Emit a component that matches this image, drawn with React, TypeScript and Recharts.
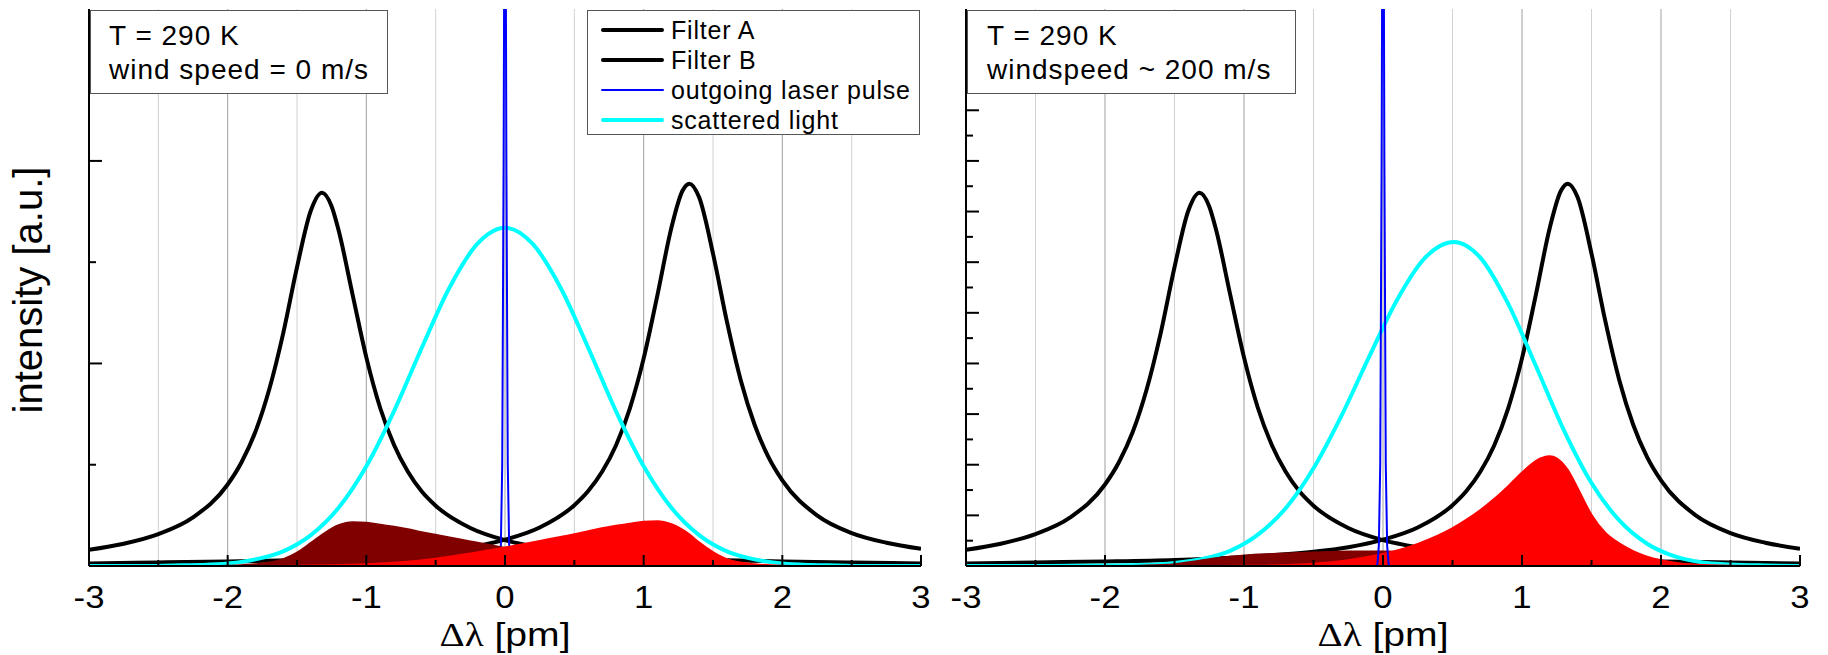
import { ComposedChart, Line, Area, XAxis, YAxis, CartesianGrid, Legend } from "recharts";

const FONT = "'Liberation Sans', Arial, Helvetica, sans-serif";

// wavelength offset [pm] / intensity [a.u.]
const filterAX = [-3, -2.75, -2.5, -2.25, -2, -1.9, -1.8, -1.7, -1.6, -1.5, -1.4, -1.32, -1.25, -1.2, -1.1, -1, -0.9, -0.8, -0.7, -0.6, -0.5, -0.25, 0, 0.25, 0.5, 0.75, 1, 1.5, 2, 2.5, 3];
const filterAY = [0.32, 0.44, 0.63, 0.96, 1.61, 2.05, 2.65, 3.49, 4.59, 5.9, 7.02, 7.37, 7.1, 6.63, 5.37, 4.12, 3.12, 2.39, 1.86, 1.47, 1.19, 0.75, 0.51, 0.37, 0.28, 0.22, 0.17, 0.12, 0.09, 0.07, 0.05];

const filterBX = [-3, -2.5, -2, -1.5, -1, -0.75, -0.5, -0.25, 0, 0.25, 0.5, 0.6, 0.7, 0.8, 0.9, 1, 1.1, 1.2, 1.28, 1.33, 1.4, 1.5, 1.6, 1.7, 1.8, 1.9, 2, 2.25, 2.5, 2.75, 3];
const filterBY = [0.05, 0.07, 0.09, 0.12, 0.18, 0.22, 0.28, 0.37, 0.52, 0.76, 1.2, 1.48, 1.86, 2.38, 3.11, 4.1, 5.36, 6.68, 7.41, 7.55, 7.28, 6.17, 4.83, 3.67, 2.79, 2.15, 1.69, 1.0, 0.65, 0.46, 0.34];

const laserX = [-3, -0.045, -0.04, -0.03, -0.02, -0.01, 0, 0.01, 0.02, 0.03, 0.04, 0.045, 3];
const laserY = [0, 0, 0.05, 0.4, 2, 8, 17, 8, 2, 0.4, 0.05, 0, 0];

// wind speed = 0 m/s
const calmScatterX = [-3, -2.8, -2.6, -2.4, -2.2, -2, -1.8, -1.6, -1.4, -1.2, -1, -0.8, -0.6, -0.4, -0.2, 0, 0.2, 0.4, 0.6, 0.8, 1, 1.2, 1.4, 1.6, 1.8, 2, 2.2, 2.4, 2.6, 2.8, 3];
const calmScatterY = [0, 0, 0, 0.01, 0.02, 0.05, 0.13, 0.29, 0.61, 1.15, 1.97, 3.06, 4.31, 5.5, 6.36, 6.68, 6.36, 5.5, 4.31, 3.06, 1.97, 1.15, 0.61, 0.29, 0.13, 0.05, 0.02, 0.01, 0, 0, 0];

const calmThruAX = [-3, -2.25, -2, -1.8, -1.6, -1.5, -1.4, -1.32, -1.2, -1.1, -1, -0.9, -0.8, -0.7, -0.6, -0.5, -0.4, -0.25, 0, 0.25, 0.5, 0.75, 1, 1.25, 1.5, 2, 3];
const calmThruAY = [0, 0, 0.01, 0.04, 0.14, 0.27, 0.46, 0.62, 0.81, 0.87, 0.86, 0.82, 0.78, 0.73, 0.67, 0.62, 0.57, 0.49, 0.36, 0.24, 0.15, 0.08, 0.04, 0.02, 0.01, 0, 0];

const calmThruBX = [-3, -2, -1.5, -1.25, -1, -0.75, -0.5, -0.25, 0, 0.25, 0.4, 0.5, 0.6, 0.7, 0.8, 0.9, 1, 1.1, 1.2, 1.33, 1.4, 1.5, 1.6, 1.8, 2, 2.25, 3];
const calmThruBY = [0, 0, 0.01, 0.02, 0.04, 0.08, 0.15, 0.25, 0.37, 0.5, 0.58, 0.63, 0.69, 0.75, 0.8, 0.84, 0.88, 0.89, 0.83, 0.63, 0.47, 0.28, 0.14, 0.04, 0.01, 0, 0];

// windspeed ~ 200 m/s
const windScatterX = [-3, -2.5, -2, -1.75, -1.5, -1.3, -1.1, -0.9, -0.7, -0.5, -0.3, -0.1, 0.1, 0.3, 0.51, 0.7, 0.9, 1.1, 1.3, 1.5, 1.7, 1.9, 2.1, 2.3, 2.5, 2.75, 3];
const windScatterY = [0, 0, 0.01, 0.02, 0.06, 0.14, 0.3, 0.62, 1.14, 1.93, 2.96, 4.13, 5.25, 6.08, 6.4, 6.09, 5.18, 3.95, 2.69, 1.64, 0.9, 0.44, 0.19, 0.07, 0.03, 0.01, 0];

const windThruAX = [-3, -2, -1.75, -1.5, -1.32, -1.2, -1.1, -1, -0.9, -0.8, -0.7, -0.5, -0.25, 0, 0.25, 0.5, 0.75, 1, 1.25, 1.5, 2, 3];
const windThruAY = [0, 0, 0.01, 0.04, 0.11, 0.16, 0.19, 0.21, 0.23, 0.24, 0.25, 0.27, 0.29, 0.29, 0.27, 0.22, 0.16, 0.1, 0.05, 0.02, 0, 0];

const windThruBX = [-3, -1.5, -1, -0.75, -0.5, -0.25, 0, 0.25, 0.5, 0.6, 0.7, 0.8, 0.9, 1, 1.1, 1.2, 1.25, 1.33, 1.4, 1.5, 1.6, 1.7, 1.8, 1.9, 2, 2.1, 2.25, 2.5, 3];
const windThruBY = [0, 0, 0.01, 0.02, 0.05, 0.12, 0.24, 0.44, 0.75, 0.92, 1.11, 1.33, 1.58, 1.85, 2.08, 2.17, 2.13, 1.9, 1.55, 1.02, 0.66, 0.45, 0.3, 0.19, 0.12, 0.07, 0.03, 0.01, 0];

const xTicks = [-3, -2.5, -2, -1.5, -1, -0.5, 0, 0.5, 1, 1.5, 2, 2.5, 3];
const gridMinor = [-2.5, -1.5, -0.5, 0.5, 1.5, 2.5];
const gridMajor = [-2, -1, 0, 1, 2];
const calmYTicks = [0, 2, 4, 6, 8, 10];
const windYTicks = [0, 0.5, 1, 1.5, 2, 2.5, 3, 3.5, 4, 4.5, 5, 5.5, 6, 6.5, 7, 7.5, 8, 8.5, 9, 9.5, 10, 10.5];

const legendItems = [
  { name: "Filter A", color: "#000000", w: 4 },
  { name: "Filter B", color: "#000000", w: 4 },
  { name: "outgoing laser pulse", color: "#0000ff", w: 1.5 },
  { name: "scattered light", color: "#00ffff", w: 4.5 },
];

type Pt = { x: number; y: number };
const pts = (xs: number[], ys: number[]): Pt[] => xs.map((x, i) => ({ x, y: ys[i] }));

const filterA = pts(filterAX, filterAY);
const filterB = pts(filterBX, filterBY);
const laser = pts(laserX, laserY);

const axisStyle = { stroke: "#000", strokeWidth: 2 };

function BottomTick(p: any) {
  const v = p.payload.value;
  const major = Math.abs(v - Math.round(v)) < 1e-6;
  return (
    <g>
      <line x1={p.x} y1={p.y} x2={p.x} y2={p.y - (major ? 11 : 6)} stroke="#000" strokeWidth={2} />
      {major && (
        <text
          transform={`translate(${p.x},${p.y + 42}) scale(1.12,1)`}
          textAnchor="middle"
          fontSize={31}
          fontFamily={FONT}
          fill="#000"
        >
          {String(v)}
        </text>
      )}
    </g>
  );
}

function TopTick(p: any) {
  return <line x1={p.x} y1={p.y} x2={p.x} y2={p.y + 5} stroke="#000" strokeWidth={2} />;
}

function SideTick(p: any) {
  const v = p.payload.value;
  const major = Math.abs(v / p.step - Math.round(v / p.step)) < 1e-6;
  const len = major ? 13 : 7;
  return <line x1={p.x} y1={p.y} x2={p.x + p.dir * len} y2={p.y} stroke="#000" strokeWidth={2} />;
}

function LegendBox() {
  return (
    <div
      style={{
        boxSizing: "border-box",
        width: 333,
        height: 125,
        border: "1px solid #555",
        background: "#fff",
        paddingTop: 4,
        fontFamily: FONT,
        fontSize: 25,
        letterSpacing: 0.8,
        color: "#000",
      }}
    >
      {legendItems.map((it) => (
        <div key={it.name} style={{ display: "flex", alignItems: "center", height: 30 }}>
          <div style={{ width: 63, height: it.w, background: it.color, marginLeft: 13, borderRadius: 2 }} />
          <span style={{ marginLeft: 7, lineHeight: "30px", whiteSpace: "nowrap" }}>{it.name}</span>
        </div>
      ))}
    </div>
  );
}

interface PanelProps {
  width: number;
  yAxisWidth: number;
  rightMargin: number;
  yTicks: number[];
  yMajor: number;
  scatter: Pt[];
  thruA: Pt[];
  thruB: Pt[];
  laserOnTop: boolean;
  withLegend: boolean;
}

function Panel(props: PanelProps) {
  const { width, yAxisWidth, rightMargin, yTicks, yMajor, scatter, thruA, thruB, laserOnTop, withLegend } = props;

  const laserLine = (
    <Line
      key="laser"
      data={laser}
      dataKey="y"
      type="linear"
      stroke="#0000ff"
      strokeWidth={2}
      dot={false}
      activeDot={false}
      isAnimationActive={false}
      zIndex={laserOnTop ? 420 : 405}
    />
  );
  const areas = [
    <Area
      key="thruA"
      data={thruA}
      dataKey="y"
      type="monotone"
      stroke="#800000"
      strokeWidth={1.5}
      fill="#800000"
      fillOpacity={1}
      dot={false}
      activeDot={false}
      isAnimationActive={false}
      zIndex={410}
    />,
    <Area
      key="thruB"
      data={thruB}
      dataKey="y"
      type="monotone"
      stroke="#ff0000"
      strokeWidth={1.5}
      fill="#ff0000"
      fillOpacity={1}
      dot={false}
      activeDot={false}
      isAnimationActive={false}
      zIndex={411}
    />,
  ];

  return (
    <ComposedChart width={width} height={655} margin={{ top: 9, right: rightMargin, bottom: 0, left: 0 }}>
      <CartesianGrid horizontal={false} verticalValues={gridMinor} stroke="#d2d2d2" strokeWidth={1} />
      <CartesianGrid horizontal={false} verticalValues={gridMajor} stroke="#a0a0a0" strokeWidth={1} />
      <XAxis
        dataKey="x"
        type="number"
        domain={[-3, 3]}
        allowDataOverflow
        ticks={xTicks}
        interval={0}
        tickSize={0}
        tickMargin={0}
        tickLine={false}
        tick={BottomTick}
        axisLine={axisStyle}
        height={89}
      />
      <XAxis
        xAxisId="top"
        orientation="top"
        dataKey="x"
        type="number"
        domain={[-3, 3]}
        allowDataOverflow
        ticks={xTicks}
        interval={0}
        tickSize={0}
        tickMargin={0}
        tickLine={false}
        tick={TopTick}
        axisLine={axisStyle}
        height={0}
      />
      <YAxis
        type="number"
        domain={[0, 11]}
        allowDataOverflow
        ticks={yTicks}
        interval={0}
        tickSize={0}
        tickMargin={0}
        tickLine={false}
        tick={(p: any) => <SideTick {...p} dir={1} step={yMajor} />}
        axisLine={axisStyle}
        width={yAxisWidth}
      />
      <YAxis
        yAxisId="right"
        orientation="right"
        type="number"
        domain={[0, 11]}
        allowDataOverflow
        ticks={yTicks}
        interval={0}
        tickSize={0}
        tickMargin={0}
        tickLine={false}
        tick={(p: any) => <SideTick {...p} dir={-1} step={yMajor} />}
        axisLine={axisStyle}
        width={0}
      />
      <Line data={filterA} dataKey="y" type="monotone" stroke="#000" strokeWidth={4} dot={false} activeDot={false} isAnimationActive={false} zIndex={400} />
      <Line data={filterB} dataKey="y" type="monotone" stroke="#000" strokeWidth={4} dot={false} activeDot={false} isAnimationActive={false} zIndex={400} />
      <Line data={scatter} dataKey="y" type="monotone" stroke="#00ffff" strokeWidth={4} dot={false} activeDot={false} isAnimationActive={false} zIndex={401} />
      {laserOnTop ? areas : laserLine}
      {laserOnTop ? laserLine : areas}
      {withLegend && (
        <Legend
          layout="vertical"
          align="center"
          verticalAlign="middle"
          wrapperStyle={{ left: 587, top: 10, width: 333, height: 125 }}
          content={() => <LegendBox />}
        />
      )}
    </ComposedChart>
  );
}

const infoBox: React.CSSProperties = {
  position: "absolute",
  top: 10,
  height: 84,
  boxSizing: "border-box",
  border: "1px solid #555",
  background: "#fff",
  fontFamily: FONT,
  fontSize: 28,
  letterSpacing: 1,
  lineHeight: "34px",
  paddingTop: 8,
  whiteSpace: "nowrap",
  color: "#000",
};

const xTitle: React.CSSProperties = {
  position: "absolute",
  top: 617,
  fontFamily: FONT,
  fontSize: 34,
  lineHeight: "34px",
  whiteSpace: "nowrap",
  transform: "translateX(-50%) scaleX(1.15)",
  color: "#000",
};

export default function App() {
  return (
    <div style={{ position: "absolute", left: 0, top: 0, width: 1828, height: 655, background: "#fff", overflow: "hidden" }}>
      <div style={{ position: "absolute", left: 0, top: 0 }}>
        <Panel
          width={940}
          yAxisWidth={89}
          rightMargin={19}
          yTicks={calmYTicks}
          yMajor={4}
          scatter={pts(calmScatterX, calmScatterY)}
          thruA={pts(calmThruAX, calmThruAY)}
          thruB={pts(calmThruBX, calmThruBY)}
          laserOnTop={false}
          withLegend
        />
      </div>
      <div style={{ position: "absolute", left: 940, top: 0 }}>
        <Panel
          width={888}
          yAxisWidth={26}
          rightMargin={28}
          yTicks={windYTicks}
          yMajor={1}
          scatter={pts(windScatterX, windScatterY)}
          thruA={pts(windThruAX, windThruAY)}
          thruB={pts(windThruBX, windThruBY)}
          laserOnTop
          withLegend={false}
        />
      </div>

      <div style={{ ...infoBox, left: 90, width: 298, paddingLeft: 18 }}>
        <div>T = 290 K</div>
        <div>wind speed = 0 m/s</div>
      </div>
      <div style={{ ...infoBox, left: 967, width: 329, paddingLeft: 19 }}>
        <div>T = 290 K</div>
        <div>windspeed ~ 200 m/s</div>
      </div>

      <div
        style={{
          position: "absolute",
          left: 28,
          top: 290,
          fontFamily: FONT,
          fontSize: 40,
          lineHeight: "40px",
          whiteSpace: "nowrap",
          transform: "translate(-50%, -50%) rotate(-90deg)",
          color: "#000",
        }}
      >
        intensity [a.u.]
      </div>
      <div style={{ ...xTitle, left: 505 }}>
        <span style={{ fontFamily: "'Liberation Serif', 'Times New Roman', serif" }}>Δλ</span> [pm]
      </div>
      <div style={{ ...xTitle, left: 1383 }}>
        <span style={{ fontFamily: "'Liberation Serif', 'Times New Roman', serif" }}>Δλ</span> [pm]
      </div>
    </div>
  );
}
